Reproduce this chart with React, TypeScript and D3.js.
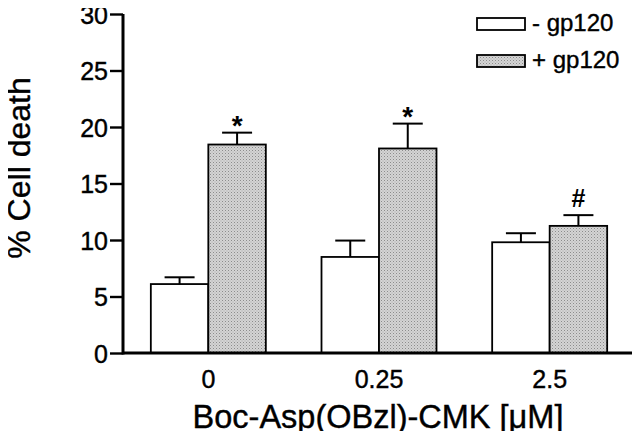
import React, { useRef, useEffect } from "react";
import * as d3 from "d3";

const doses = ["0", "0.25", "2.5"];
const minusMeans = [6.1, 8.5, 9.8];
const minusErrors = [0.6, 1.45, 0.8];
const plusMeans = [18.45, 18.1, 11.25];
const plusErrors = [1.05, 2.2, 0.95];
const plusMarks = ["*", "*", "#"];
const yTicks = [0, 5, 10, 15, 20, 25, 30];
const seriesLabels = ["- gp120", "+ gp120"];

const WIDTH = 640;
const HEIGHT = 439;
const FONT = "'Liberation Sans', Arial, Helvetica, sans-serif";

const App: React.FC = () => {
  const svgRef = useRef<SVGSVGElement | null>(null);

  useEffect(() => {
    if (!svgRef.current) return;
    const svg = d3.select(svgRef.current);
    svg.selectAll("*").remove();

    const left = 123;
    const right = 635;
    const top = 14;
    const bottom = 353;
    const barW = 57.5;

    // stippled grey fill
    const defs = svg.append("defs");
    const pat = defs
      .append("pattern")
      .attr("id", "stipple")
      .attr("patternUnits", "userSpaceOnUse")
      .attr("width", 3)
      .attr("height", 3);
    pat.append("rect").attr("width", 3).attr("height", 3).attr("fill", "#d4d4d4");
    pat.append("rect").attr("width", 1).attr("height", 1).attr("fill", "#8c8c8c");
    pat.append("rect").attr("x", 1.5).attr("y", 1.5).attr("width", 1).attr("height", 1).attr("fill", "#a8a8a8");

    const x = d3.scalePoint<string>().domain(doses).range([left, right]).padding(0.5);
    const y = d3.scaleLinear().domain([0, 30]).range([bottom, top]);

    const series = [
      { means: minusMeans, errs: minusErrors, fill: "#ffffff", offset: -barW },
      { means: plusMeans, errs: plusErrors, fill: "url(#stipple)", offset: 0 },
    ];

    // bars + error bars
    series.forEach((s) => {
      const g = svg.append("g");
      g.selectAll("rect")
        .data(s.means)
        .join("rect")
        .attr("x", (_, i) => x(doses[i])! + s.offset)
        .attr("y", (d) => y(d))
        .attr("width", barW)
        .attr("height", (d) => bottom - y(d))
        .attr("fill", s.fill)
        .attr("stroke", "#000")
        .attr("stroke-width", 1.8);

      s.means.forEach((m, i) => {
        const cx = x(doses[i])! + s.offset + barW / 2;
        g.append("line")
          .attr("x1", cx).attr("x2", cx)
          .attr("y1", y(m)).attr("y2", y(m + s.errs[i]))
          .attr("stroke", "#000").attr("stroke-width", 2);
        g.append("line")
          .attr("x1", cx - 15).attr("x2", cx + 15)
          .attr("y1", y(m + s.errs[i])).attr("y2", y(m + s.errs[i]))
          .attr("stroke", "#000").attr("stroke-width", 2);
      });
    });

    // significance marks
    svg.append("g")
      .selectAll("text")
      .data(plusMarks)
      .join("text")
      .attr("x", (_, i) => x(doses[i])! + barW / 2)
      .attr("y", (d, i) => y(plusMeans[i] + plusErrors[i]) - (d === "*" ? -2 : 8))
      .attr("text-anchor", "middle")
      .attr("font-family", FONT)
      .attr("font-weight", "bold")
      .attr("font-size", (d) => (d === "*" ? 28 : 25))
      .text((d) => d);

    // y axis
    const yAxis = svg.append("g").attr("transform", `translate(${left},0)`)
      .call(d3.axisLeft(y).tickValues(yTicks).tickSize(13).tickPadding(2));
    yAxis.select(".domain").attr("stroke-width", 3).attr("d", `M0,${top}V${bottom + 1.5}`);
    yAxis.selectAll(".tick line").attr("stroke-width", 2.4);
    yAxis.selectAll(".tick text")
      .attr("font-family", FONT)
      .attr("font-size", 25)
      .attr("dy", "0.36em")
      .attr("fill", "#000")
      .attr("stroke", "#000")
      .attr("stroke-width", 0.4);

    // x axis
    svg.append("line")
      .attr("x1", left).attr("x2", right)
      .attr("y1", bottom).attr("y2", bottom)
      .attr("stroke", "#000").attr("stroke-width", 3);

    svg.append("g")
      .selectAll("text")
      .data(doses)
      .join("text")
      .attr("x", (d) => x(d)!)
      .attr("y", 388)
      .attr("text-anchor", "middle")
      .attr("font-family", FONT)
      .attr("font-size", 25)
      .attr("stroke", "#000")
      .attr("stroke-width", 0.4)
      .text((d) => d);

    // axis titles
    svg.append("text")
      .attr("x", 378)
      .attr("y", 428)
      .attr("text-anchor", "middle")
      .attr("font-family", FONT)
      .attr("font-size", 32.5)
      .attr("stroke", "#000")
      .attr("stroke-width", 0.4)
      .text("Boc-Asp(OBzl)-CMK [μM]");

    svg.append("text")
      .attr("transform", "translate(30,168) rotate(-90)")
      .attr("text-anchor", "middle")
      .attr("font-family", FONT)
      .attr("font-size", 32)
      .attr("stroke", "#000")
      .attr("stroke-width", 0.4)
      .text("% Cell death");

    // legend
    const legend = svg.append("g");
    const legendFills = ["#ffffff", "url(#stipple)"];
    const legendY = [18, 55];
    seriesLabels.forEach((lab, i) => {
      legend.append("rect")
        .attr("x", 477).attr("y", legendY[i])
        .attr("width", 48).attr("height", 12)
        .attr("fill", legendFills[i])
        .attr("stroke", "#000").attr("stroke-width", 1.8);
      legend.append("text")
        .attr("x", 532).attr("y", legendY[i] + 13)
        .attr("font-family", FONT)
        .attr("font-size", 24)
        .attr("stroke", "#000")
        .attr("stroke-width", 0.4)
        .text(lab);
    });
  }, []);

  return <svg ref={svgRef} width={WIDTH} height={HEIGHT} style={{ display: "block", margin: -8 }} />;
};

export default App;
